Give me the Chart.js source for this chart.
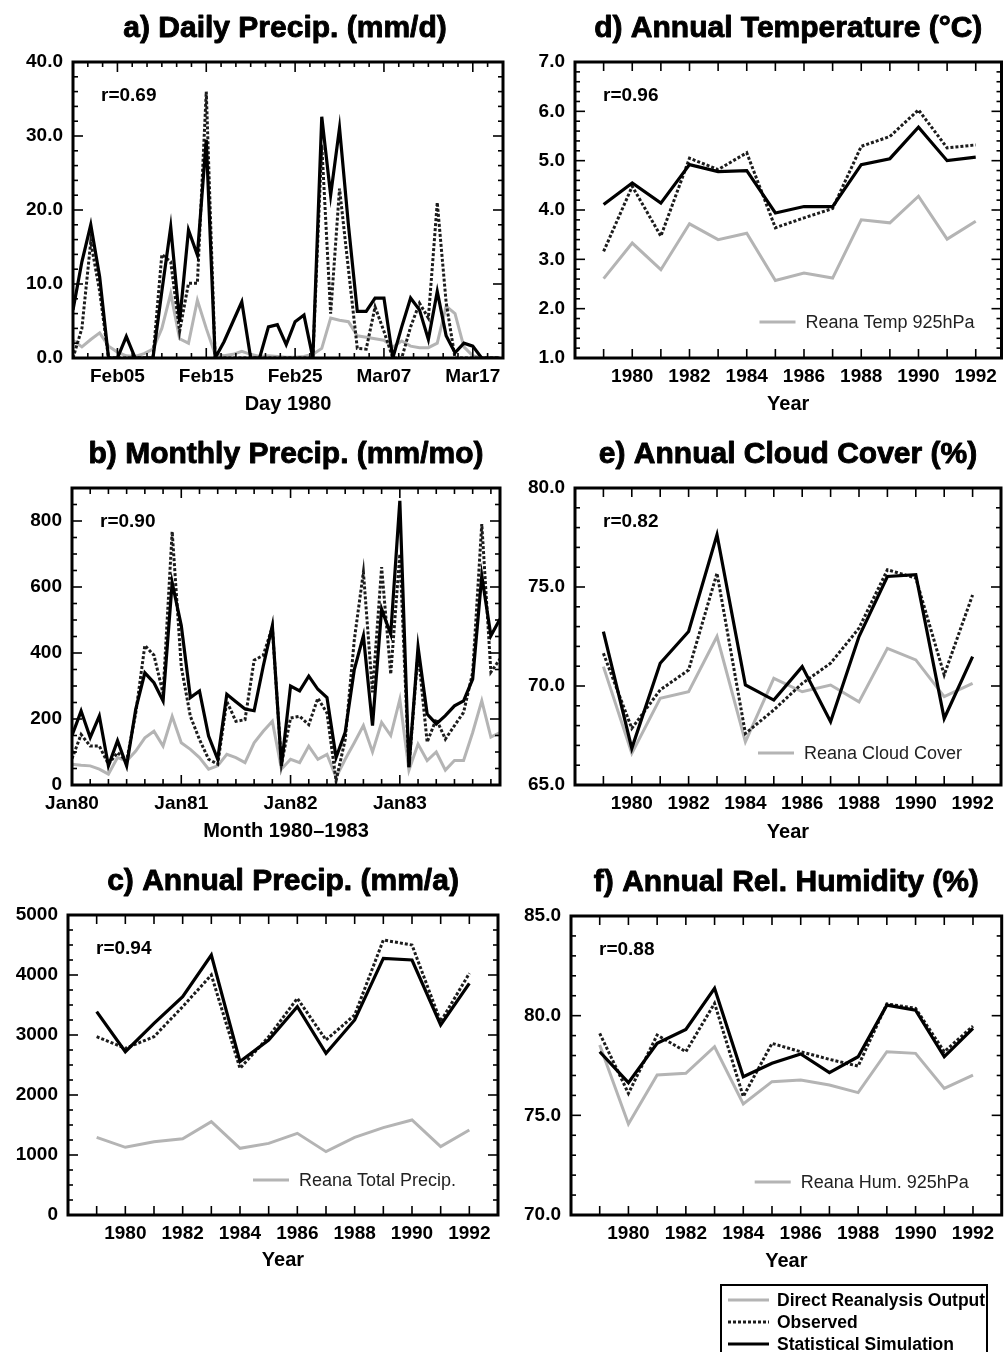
<!DOCTYPE html>
<html>
<head>
<meta charset="utf-8">
<script src="https://cdn.jsdelivr.net/npm/chart.js@4/dist/chart.umd.min.js"></script>
<style>
  body { margin:0; background:#fff; width:1005px; height:1352px; position:relative; overflow:hidden;
         font-family:'Liberation Sans', Arial, Helvetica, sans-serif; }
  canvas { position:absolute; }
  #leg { position:absolute; left:720px; top:1284px; width:264px; height:80px; border:2px solid #000; background:#fff; }
  #leg .row { position:absolute; left:0; height:22px; width:270px; }
  #leg svg { position:absolute; left:6px; top:8px; }
  #leg span { position:absolute; left:55px; top:0; line-height:22px; font-weight:bold; font-size:17.5px; color:#000; white-space:nowrap; }
</style>
</head>
<body>
<canvas id="ca" width="520" height="430" style="left:0px;top:0px"></canvas>
<canvas id="cb" width="520" height="430" style="left:0px;top:426px"></canvas>
<canvas id="cc" width="520" height="430" style="left:0px;top:853px"></canvas>
<canvas id="cd" width="485" height="430" style="left:520px;top:0px"></canvas>
<canvas id="ce" width="485" height="430" style="left:520px;top:426px"></canvas>
<canvas id="cf" width="485" height="430" style="left:520px;top:853px"></canvas>

<div id="leg">
  <div class="row" style="top:3px"><svg width="44" height="6"><line x1="0" y1="3" x2="41" y2="3" stroke="#b4b4b4" stroke-width="3"/></svg><span>Direct Reanalysis Output</span></div>
  <div class="row" style="top:25px"><svg width="44" height="6"><line x1="0" y1="3" x2="41" y2="3" stroke="#1c1c1c" stroke-width="3" stroke-dasharray="3,2"/></svg><span>Observed</span></div>
  <div class="row" style="top:47px"><svg width="44" height="6"><line x1="0" y1="3" x2="41" y2="3" stroke="#000" stroke-width="3"/></svg><span>Statistical Simulation</span></div>
</div>

<script>
// ---------------- DATA ----------------
// a) Daily precipitation (mm/d), day offsets relative to Feb05 1980
const dailyDays = [-5,-4,-3,-2,-1,0,1,2,3,4,5,6,7,8,9,10,11,12,13,14,15,16,17,18,19,20,21,22,23,24,25,26,27,28,29,30,31,32,33,34,35,36,37,38,39,40,41,42,43];
const dailySim   = [6.5,13,18,11,0,0,2.9,0,0,0,9,17.7,4.9,17.3,13.9,29.5,0,2.2,4.9,7.6,0,0,4.2,4.5,1.8,4.9,5.8,0,32.6,22,31.1,18,6.3,6.3,8.1,8.1,0,4.2,8.1,6.5,2.5,9,3,0.7,2,1.6,0,0,0];
const dailyObs   = [0,4,15.7,9,0,0,0,0,0,0,14,13,3.6,10.1,10.1,36,0,0,0,0,0,0,0,0,0,0,0,0,28.8,6,22.9,12,1.3,1.2,6.9,3.6,0,0,4.2,7.4,5.4,21,7.5,0,0,0,0,0,0];
const dailyReana = [2.4,1.5,2.5,3.4,1.6,0.8,0.3,0.2,0.6,1.2,4,8.7,2.6,2.0,7.8,4,0.5,0.3,0.5,0.9,0.5,0.2,0.3,0.2,0.1,0.1,0.2,0.5,1.3,5.4,5.1,4.9,3.0,2.8,2.6,2.4,1.5,2.3,1.6,1.4,1.4,2,7,6,1.5,0.3,0,0,0];
const dailyTickDays   = [0,10,20,30,40];
const dailyTickLabels = ['Feb05','Feb15','Feb25','Mar07','Mar17'];
const dailyYTicks     = [0,10,20,30,40];

// b) Monthly precipitation (mm/mo), month index from Jan80
const monthIdx = [0,1,2,3,4,5,6,7,8,9,10,11,12,13,14,15,16,17,18,19,20,21,22,23,24,25,26,27,28,29,30,31,32,33,34,35,36,37,38,39,40,41,42,43,44,45,46,47];
const monthlySim   = [150,224,144,209,58,134,58,230,340,310,255,613,483,265,285,148,78,275,252,230,225,360,483,58,300,285,330,290,265,83,160,350,452,180,533,457,861,54,418,215,185,210,240,255,321,634,452,503];
const monthlyObs   = [80,153,118,118,63,98,73,218,423,393,278,768,358,208,138,78,63,253,193,198,378,393,478,63,203,208,183,263,218,13,138,440,645,281,660,336,700,54,403,130,200,139,180,220,341,791,342,382];
const monthlyReana = [63,60,58,48,33,83,73,103,143,163,118,208,128,108,83,48,58,93,83,68,128,163,193,48,78,68,118,78,93,23,78,128,180,100,190,150,260,45,124,74,100,45,74,74,159,255,145,159];
const monthTickIdx    = [0,12,24,36];
const monthTickLabels = ['Jan80','Jan81','Jan82','Jan83'];
const monthlyYTicks   = [0,200,400,600,800];

// Annual series 1979-1992
const years = [1979,1980,1981,1982,1983,1984,1985,1986,1987,1988,1989,1990,1991,1992];
const yearTickValues = [1980,1982,1984,1986,1988,1990,1992];
const yearTickLabels = ['1980','1982','1984','1986','1988','1990','1992'];

const annPrecipSim   = [3389,2722,3194,3639,4333,2556,2917,3472,2694,3250,4278,4250,3167,3861];
const annPrecipObs   = [2972,2778,2972,3472,4000,2444,2972,3611,2917,3333,4583,4500,3222,4028];
const annPrecipReana = [1294,1128,1222,1272,1556,1111,1194,1361,1056,1294,1456,1583,1139,1417];
const annPrecipYTicks = [0,1000,2000,3000,4000,5000];

const annTempSim   = [4.11,4.55,4.14,4.92,4.78,4.80,3.94,4.07,4.07,4.92,5.04,5.68,5.00,5.07];
const annTempObs   = [3.16,4.48,3.47,5.05,4.82,5.16,3.64,3.84,4.03,5.29,5.49,6.03,5.26,5.32];
const annTempReana = [2.61,3.33,2.79,3.72,3.40,3.53,2.57,2.72,2.62,3.80,3.74,4.28,3.41,3.77];
const annTempYTicks = [1,2,3,4,5,6,7];

const annCloudSim   = [72.75,66.85,71.15,72.75,77.64,70.05,69.29,70.98,68.2,72.5,75.53,75.62,68.36,71.48];
const annCloudObs   = [71.65,67.86,69.8,70.81,75.7,67.6,68.79,70.13,71.15,72.92,75.87,75.45,70.56,74.6];
const annCloudReana = [70.98,66.6,69.38,69.71,72.5,67.18,70.39,69.71,70.05,69.2,71.9,71.32,69.46,70.13];
const annCloudYTicks = [65,70,75,80];

const annHumSim   = [78.19,76.64,78.61,79.31,81.37,76.94,77.61,78.08,77.14,77.94,80.53,80.28,77.94,79.36];
const annHumObs   = [79.11,76.1,79.03,78.19,80.62,75.94,78.61,78.19,77.81,77.47,80.59,80.37,78.19,79.48];
const annHumReana = [78.53,74.57,77.02,77.11,78.44,75.57,76.69,76.77,76.52,76.14,78.19,78.11,76.35,77.02];
const annHumYTicks = [70,75,80,85];

// ---------------- RENDERING ----------------
const FONT = "'Liberation Sans', Arial, Helvetica, sans-serif";
Chart.defaults.font.family = FONT;
Chart.defaults.color = '#000';

function series(xs, ys) { return xs.map((x, i) => ({ x: x, y: ys[i] })); }

function range(a, b, step) { const out = []; for (let v = a; v <= b + step * 1e-6; v += step) out.push(Math.round(v * 1000) / 1000); return out; }

function makeDeco(p) {
  return {
    id: 'deco_' + p.id,
    afterDatasetsDraw(chart) {
      const { ctx, chartArea: a, scales: { x, y } } = chart;
      ctx.save();
      ctx.strokeStyle = '#000';
      ctx.lineCap = 'butt';
      ctx.lineWidth = 1.6;
      const line = (x1, y1, x2, y2) => { ctx.beginPath(); ctx.moveTo(x1, y1); ctx.lineTo(x2, y2); ctx.stroke(); };
      // inward y ticks (left and right)
      p.yMinor.forEach(v => {
        const py = y.getPixelForValue(v);
        const major = Math.abs(v / p.yMajorStep - Math.round(v / p.yMajorStep)) < 1e-6;
        const L = major ? 10 : 5;
        line(a.left, py, a.left + L, py);
        line(a.right, py, a.right - L, py);
      });
      // inward x ticks (bottom and top)
      p.xMinor.forEach(t => {
        const px = x.getPixelForValue(t.v);
        if (px < a.left + 1 || px > a.right - 1) return;
        line(px, a.bottom, px, a.bottom - t.len);
        line(px, a.top, px, a.top + t.len);
      });
      // frame
      ctx.lineWidth = 3;
      ctx.strokeRect(a.left, a.top, a.right - a.left, a.bottom - a.top);
      // correlation label
      ctx.fillStyle = '#000';
      ctx.font = 'bold 19px ' + FONT;
      ctx.textAlign = 'left';
      ctx.textBaseline = 'middle';
      ctx.fillText(p.r, a.left + 28, a.top + 34);
      // panel title (slightly stroked to mimic the heavy original face)
      ctx.font = 'bold 30px ' + FONT;
      ctx.textAlign = 'center';
      ctx.textBaseline = 'alphabetic';
      const tx = (a.left + a.right) / 2 + (p.titleDx || 0), ty = a.top - 25;
      ctx.fillText(p.title, tx, ty);
      ctx.lineWidth = 0.9;
      ctx.lineJoin = 'round';
      ctx.strokeText(p.title, tx, ty);
      // in-panel legend for reanalysis line
      if (p.legend) {
        const sx = a.right - p.legend.fromRight;
        const sy = a.bottom - p.legend.fromBottom;
        ctx.strokeStyle = '#b4b4b4';
        ctx.lineWidth = 3;
        line(sx, sy, sx + 36, sy);
        ctx.fillStyle = '#222';
        ctx.font = '18px ' + FONT;
        ctx.textAlign = 'left';
        ctx.textBaseline = 'middle';
        ctx.fillText(p.legend.text, sx + 46, sy + 1);
      }
      ctx.restore();
    }
  };
}

function makePanel(p) {
  const cv = document.getElementById(p.id);
  const cLeft = parseFloat(cv.style.left), cTop = parseFloat(cv.style.top);
  const W = cv.width, H = cv.height;
  const titleSize = 20, lh = titleSize * 1.2;
  const xAxisH = p.xTitleDy + lh / 2;
  const padBottom = H - (p.plot.b - cTop) - xAxisH;
  new Chart(cv, {
    type: 'line',
    data: {
      datasets: [
        { label: 'Statistical Simulation', data: series(p.xs, p.sim), borderColor: '#000', borderWidth: 3.2,
          pointRadius: 0, tension: 0, fill: false },
        { label: 'Observed', data: series(p.xs, p.obs), borderColor: '#1c1c1c', borderWidth: 3, borderDash: [3, 2],
          pointRadius: 0, tension: 0, fill: false },
        { label: 'Direct Reanalysis Output', data: series(p.xs, p.rea), borderColor: '#b4b4b4', borderWidth: 3,
          pointRadius: 0, tension: 0, fill: false }
      ]
    },
    options: {
      responsive: false, animation: false, devicePixelRatio: 1,
      layout: { padding: { left: 0, top: p.plot.t - cTop, right: cLeft + W - p.plot.r, bottom: padBottom } },
      plugins: { legend: { display: false }, tooltip: { enabled: false }, title: { display: false } },
      scales: {
        x: {
          type: 'linear', min: p.xMin, max: p.xMax,
          afterBuildTicks: s => { s.ticks = p.xLabelVals.map(v => ({ value: v })); },
          afterFit: s => { s.height = xAxisH; },
          ticks: { autoSkip: false, maxRotation: 0, minRotation: 0, padding: 7, color: '#000',
                   font: { size: 19, weight: 'bold' }, callback: (v, i) => p.xLabels[i] },
          grid: { display: false, drawTicks: false }, border: { display: false },
          title: { display: true, text: p.xTitle, color: '#000', font: { size: titleSize, weight: 'bold' },
                   padding: { top: 0, bottom: 0 } }
        },
        y: {
          type: 'linear', min: p.yMin, max: p.yMax,
          afterBuildTicks: s => { s.ticks = p.yLabelVals.map(v => ({ value: v })); },
          afterFit: s => { s.width = p.plot.l - cLeft; },
          ticks: { autoSkip: false, padding: 10, color: '#000', font: { size: 19, weight: 'bold' },
                   callback: (v, i) => Number(p.yLabelVals[i]).toFixed(p.yDec) },
          grid: { display: false, drawTicks: false }, border: { display: false }
        }
      }
    },
    plugins: [makeDeco(p)]
  });
}

const annualXMinor = years.map(v => ({ v: v, len: 9 }));

// a) daily
makePanel({
  id: 'ca', plot: { l: 73, t: 62, r: 503, b: 358 },
  xs: dailyDays, sim: dailySim, obs: dailyObs, rea: dailyReana,
  xMin: -5, xMax: 43.4, yMin: 0, yMax: 40, yDec: 1, yMajorStep: 10,
  yLabelVals: dailyYTicks, yMinor: range(0, 40, 2),
  xLabelVals: dailyTickDays, xLabels: dailyTickLabels,
  xMinor: range(-3, 26, 1).map(k => ({ v: k * 10 / 6, len: (Math.round(k) % 6 === 0) ? 10 : 5 })),
  xTitle: 'Day 1980', xTitleDy: 46, r: 'r=0.69', title: 'a) Daily Precip. (mm/d)', titleDx: -3
});

// b) monthly
makePanel({
  id: 'cb', plot: { l: 72, t: 488, r: 500, b: 785 },
  xs: monthIdx, sim: monthlySim, obs: monthlyObs, rea: monthlyReana,
  xMin: 0, xMax: 47, yMin: 0, yMax: 900, yDec: 0, yMajorStep: 200,
  yLabelVals: monthlyYTicks, yMinor: range(0, 900, 50),
  xLabelVals: monthTickIdx, xLabels: monthTickLabels,
  xMinor: range(2, 46, 2).map(v => ({ v: v, len: (v % 12 === 0) ? 10 : 6 })),
  xTitle: 'Month 1980\u20131983', xTitleDy: 46, r: 'r=0.90', title: 'b) Monthly Precip. (mm/mo)'
});

// c) annual precip
makePanel({
  id: 'cc', plot: { l: 68, t: 915, r: 498, b: 1215 },
  xs: years, sim: annPrecipSim, obs: annPrecipObs, rea: annPrecipReana,
  xMin: 1978, xMax: 1993, yMin: 0, yMax: 5000, yDec: 0, yMajorStep: 1000,
  yLabelVals: annPrecipYTicks, yMinor: range(0, 5000, 250),
  xLabelVals: yearTickValues, xLabels: yearTickLabels, xMinor: annualXMinor,
  xTitle: 'Year', xTitleDy: 45, r: 'r=0.94', title: 'c) Annual Precip. (mm/a)',
  legend: { text: 'Reana Total Precip.', fromRight: 245, fromBottom: 35 }
});

// d) annual temperature
makePanel({
  id: 'cd', plot: { l: 575, t: 62, r: 1001.5, b: 358 },
  xs: years, sim: annTempSim, obs: annTempObs, rea: annTempReana,
  xMin: 1978, xMax: 1992.9, yMin: 1, yMax: 7, yDec: 1, yMajorStep: 1,
  yLabelVals: annTempYTicks, yMinor: range(1, 7, 0.2),
  xLabelVals: yearTickValues, xLabels: yearTickLabels, xMinor: annualXMinor,
  xTitle: 'Year', xTitleDy: 46, r: 'r=0.96', title: 'd) Annual Temperature (\u00B0C)',
  legend: { text: 'Reana Temp 925hPa', fromRight: 242, fromBottom: 36 }
});

// e) annual cloud cover
makePanel({
  id: 'ce', plot: { l: 575, t: 488, r: 1001, b: 785 },
  xs: years, sim: annCloudSim, obs: annCloudObs, rea: annCloudReana,
  xMin: 1978, xMax: 1993, yMin: 65, yMax: 80, yDec: 1, yMajorStep: 5,
  yLabelVals: annCloudYTicks, yMinor: range(65, 80, 1),
  xLabelVals: yearTickValues, xLabels: yearTickLabels, xMinor: annualXMinor,
  xTitle: 'Year', xTitleDy: 47, r: 'r=0.82', title: 'e) Annual Cloud Cover (%)',
  legend: { text: 'Reana Cloud Cover', fromRight: 243, fromBottom: 32 }
});

// f) annual relative humidity
makePanel({
  id: 'cf', plot: { l: 571, t: 916, r: 1001.7, b: 1215 },
  xs: years, sim: annHumSim, obs: annHumObs, rea: annHumReana,
  xMin: 1978, xMax: 1993, yMin: 70, yMax: 85, yDec: 1, yMajorStep: 5,
  yLabelVals: annHumYTicks, yMinor: range(70, 85, 1),
  xLabelVals: yearTickValues, xLabels: yearTickLabels, xMinor: annualXMinor,
  xTitle: 'Year', xTitleDy: 46, r: 'r=0.88', title: 'f) Annual Rel. Humidity (%)',
  legend: { text: 'Reana Hum. 925hPa', fromRight: 247, fromBottom: 33 }
});
</script>
</body>
</html>
